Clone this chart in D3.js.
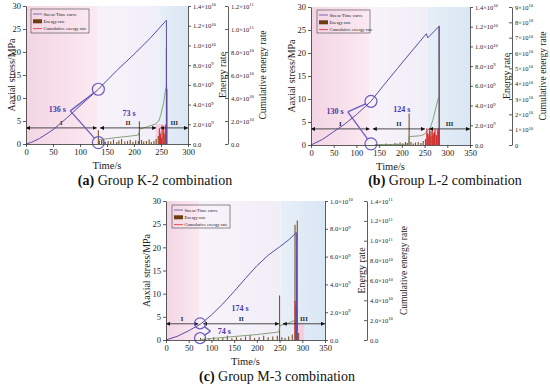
<!DOCTYPE html>
<html>
<head>
<meta charset="utf-8">
<script src="https://cdn.jsdelivr.net/npm/d3@7"></script>
<style>
  body { margin: 0; background: #fff; }
  svg { display: block; font-family: "Liberation Serif", "Times New Roman", serif; }
</style>
</head>
<body>
<svg id="chart" width="550" height="389" font-family="'Liberation Serif', serif"></svg>
<script>
// ---- shared ticks ----
const stressTicks = [0, 5, 10, 15, 20, 25, 30];
const time300 = [0, 50, 100, 150, 200, 250, 300];
const time350 = [0, 50, 100, 150, 200, 250, 300, 350];
const energyTicks14 = [0, 2e9, 4e9, 6e9, 8e9, 1e10, 1.2e10, 1.4e10];
const energyTicks10 = [0, 2e9, 4e9, 6e9, 8e9, 1e10];
const cumTicksA = [0, 2e10, 4e10, 6e10, 8e10, 1e11, 1.2e11];
const cumTicksB = [0, 1e10, 2e10, 3e10, 4e10, 5e10, 6e10, 7e10, 8e10, 9e10];
const cumTicksC = [0, 2e10, 4e10, 6e10, 8e10, 1e11, 1.2e11, 1.4e11];
const legendNames = ['Stress-Time curve', 'Energy rate', 'Cumulative energy rate'];

// ---- (a) K-2 ----  [time s, stress MPa]
const stressA = [[0,0],[10,0.35],[25,1.2],[50,3.1],[75,5.6],[100,8.3],[134,11.9],[170,16.2],[200,19.5],[230,23],[250,25.6],[260,26.9],[260.5,0]];
const energyA = [[134,1.4e9],[136,0.3e9],[140,0.4e9],[143,0.5e9],[147,0.2e9],[152,0.3e9],[157,0.25e9],[162,0.45e9],[168,0.2e9],[172,0.35e9],[177,0.5e9],[183,0.25e9],[188,0.3e9],[193,0.4e9],[198,0.2e9],[203,0.35e9],[208,0.3e9],[210,2.3e9],[214,0.4e9],[218,0.25e9],[223,0.3e9],[228,0.45e9],[232,0.2e9],[237,0.3e9],[241,0.5e9],[245,0.8e9],[248,1.2e9],[251,0.6e9],[254,1.5e9],[257,1.0e9],[259,2.0e9],[260,9.7e9]];
const redA = [[247,1.6e9],[249,1.0e9],[252,1.9e9],[255,1.2e9],[258,1.8e9],[261,5.6e9]];
const cumA = [[135,0.35e10],[140,0.4e10],[150,0.45e10],[165,0.55e10],[180,0.62e10],[195,0.7e10],[208,0.78e10],[211,1.3e10],[225,1.5e10],[240,1.75e10],[246,2.0e10],[250,2.6e10],[255,3.6e10],[258,4.6e10],[260,5.0e10]];
const stagesA = [[0,131],[137,241],[249,300]];

// ---- (b) L-2 ----
const stressB = [[0,0],[25,1.2],[50,2.9],[75,4.6],[100,6.6],[132,9.5],[160,13],[190,16.6],[220,20.2],[254,24.2],[257,23.3],[270,24.6],[282,25.8],[282.5,0]];
const energyB = [[145,0.1e9],[155,0.08e9],[165,0.15e9],[175,0.1e9],[185,0.2e9],[190,0.12e9],[196,0.25e9],[202,0.15e9],[208,0.3e9],[212,0.2e9],[216,3.2e9],[220,0.3e9],[225,0.15e9],[230,0.25e9],[236,0.3e9],[242,0.2e9],[247,0.4e9],[252,0.6e9],[256,1.2e9],[260,0.8e9],[264,1.4e9],[268,0.9e9],[272,1.3e9],[276,1.0e9],[280,1.6e9],[282,12.1e9]];
const redB = [[255,1.7e9],[258,1.1e9],[261,1.6e9],[264,0.9e9],[267,1.5e9],[270,1.2e9],[273,1.6e9],[276,1.0e9],[279,1.5e9],[281,1.7e9]];
const cumB = [[140,0.02e10],[215,0.05e10],[216,0.55e10],[240,0.6e10],[250,0.7e10],[256,0.95e10],[262,1.1e10],[268,1.6e10],[273,2.2e10],[278,2.8e10],[281,3.1e10]];
const stagesB = [[0,129],[136,251],[260,350]];

// ---- (c) M-3 ----
const stressC = [[0,0],[25,0.8],[50,2],[77,3.5],[100,5.4],[125,7.8],[150,10.5],[175,13.3],[200,16],[225,18.3],[250,20.1],[270,21.6],[287,23.2],[287.5,0]];
const energyC = [[76,0.15e9],[85,0.1e9],[95,0.12e9],[105,0.2e9],[115,0.1e9],[125,0.15e9],[135,0.3e9],[145,0.12e9],[155,0.2e9],[165,0.15e9],[175,0.25e9],[185,0.35e9],[195,0.15e9],[205,0.2e9],[215,0.3e9],[225,0.2e9],[235,0.25e9],[245,0.3e9],[250,3.2e9],[255,0.2e9],[262,0.15e9],[270,0.25e9],[278,0.4e9],[284,8.3e9],[287,2.0e9],[289,8.6e9],[292,0.5e9]];
const redC = [[284,2.8e9],[285.5,2.5e9],[287,2.9e9],[288.5,2.2e9]];
const cumC = [[75,0.05e10],[100,0.15e10],[150,0.35e10],[200,0.55e10],[248,0.8e10],[251,1.45e10],[270,1.7e10],[282,1.95e10],[285,2.3e10]];
const stagesC = [[0,71],[82,249],[257,350]];

const panels = [
  { x0: 26, x1: 188, y0: 6, y1: 144, tMax: 300, tTicks: time300,
    eMax: 1.4e10, eTicks: energyTicks14, cMax: 1.2e11, cTicks: cumTicksA, cDec: 1, cumX: 228,
    stress: stressA, energy: energyA, red: redA, cum: cumA, stages: stagesA,
    shade: [133, 245], block: [240, 260, 4.3],
    circles: [[134, 11.9], [134, 0.3]], vertex: [82, 7.2], r: 6,
    labels: [['136 s', 74, 7.0, 'end'], ['73 s', 191, 6.1, 'middle']],
    yTitleOff: 11, cTitleOff: 38,
    legend: [31, 9, 58, 24], capX: 155, capY: 185, cap: ['(a)', ' Group K-2 combination'] },
  { x0: 311, x1: 470, y0: 7, y1: 145, tMax: 350, tTicks: time350,
    eMax: 1.4e10, eTicks: energyTicks14, cMax: 9e10, cTicks: cumTicksB, cDec: 0, cumX: 512,
    stress: stressB, energy: energyB, red: redB, cum: cumB, stages: stagesB,
    shade: [129, 254], block: [255, 284, 3.7],
    circles: [[132, 9.5], [132, 0.25]], vertex: [81, 7.2], r: 6,
    labels: [['130 s', 72, 6.7, 'end'], ['124 s', 200, 7.1, 'middle']],
    yTitleOff: 16, cTitleOff: 34,
    legend: [317, 10, 53, 23], capX: 445, capY: 185, cap: ['(b)', ' Group L-2 combination'] },
  { x0: 166, x1: 325, y0: 201, y1: 340, tMax: 350, tTicks: time350,
    eMax: 1.0e10, eTicks: energyTicks10, cMax: 1.4e11, cTicks: cumTicksC, cDec: 1, cumX: 367,
    stress: stressC, energy: energyC, red: redC, cum: cumC, stages: stagesC,
    shade: [74, 252], block: [284, 304, 3.6],
    circles: [[75, 3.6], [75, 0.4]], vertex: [98, 1.9], r: 5.5,
    labels: [['174 s', 163, 6.3, 'middle'], ['74 s', 114, 1.3, 'start']],
    yTitleOff: 16, cTitleOff: 40,
    legend: [172, 205, 58, 23], capX: 277, capY: 381, cap: ['(c)', ' Group M-3 combination'] }
];

const colors = {
  stress: '#5a4ca6', energy: '#7a5424', red: '#e4262e', cum: '#6f8a5c',
  axis: '#333', text: '#222', ann: '#4a36b0'
};

const svg = d3.select('#chart');
const defs = svg.append('defs');

defs.append('marker')
  .attr('id', 'arrow')
  .attr('viewBox', '0 0 10 10')
  .attr('refX', 10).attr('refY', 5)
  .attr('markerWidth', 4).attr('markerHeight', 4)
  .attr('markerUnits', 'userSpaceOnUse')
  .attr('orient', 'auto-start-reverse')
  .append('path').attr('d', 'M0,0L10,5L0,10z').attr('fill', '#111');

function gradient(id, c1, c2) {
  const lg = defs.append('linearGradient').attr('id', id)
    .attr('x1', '0%').attr('x2', '100%').attr('y1', '0%').attr('y2', '0%');
  lg.append('stop').attr('offset', '0%').attr('stop-color', c1);
  lg.append('stop').attr('offset', '100%').attr('stop-color', c2);
}
gradient('gPink', '#f3d5e3', '#fbeaf2');
gradient('gLav', '#f8f3fa', '#f1eef8');
gradient('gBlue', '#e8eff8', '#d9e6f4');

// scientific tick label: returns [mantissa text, exponent or null]
function sci(v, dec) {
  if (v === 0) return [(0).toFixed(dec), null];
  const e = Math.floor(Math.log10(v) + 1e-9);
  return [(v / Math.pow(10, e)).toFixed(dec) + '×10', e];
}

function sciAxis(sel, dec) {
  sel.selectAll('.tick text').each(function(d) {
    const el = d3.select(this);
    const parts = sci(d, dec);
    el.text(null);
    el.append('tspan').text(parts[0]);
    if (parts[1] !== null) {
      el.append('tspan').attr('dy', -2.5).attr('font-size', 4.6).text(parts[1]);
    }
  });
}

function styleAxis(sel, size) {
  sel.attr('font-family', "'Liberation Serif', serif").attr('font-size', size);
  sel.selectAll('path, line').attr('stroke', colors.axis).attr('stroke-width', 0.8);
  sel.selectAll('text').attr('fill', colors.text);
}

function drawPanel(p) {
  const g = svg.append('g');
  const x = d3.scaleLinear().domain([0, p.tMax]).range([p.x0, p.x1]);
  const y = d3.scaleLinear().domain([0, 30]).range([p.y1, p.y0]);
  const yE = d3.scaleLinear().domain([0, p.eMax]).range([p.y1, p.y0]);
  const yC = d3.scaleLinear().domain([0, p.cMax]).range([p.y1, p.y0]);

  // stage background shading
  const regions = [[0, p.shade[0], 'gPink'], [p.shade[0], p.shade[1], 'gLav'], [p.shade[1], p.tMax, 'gBlue']];
  g.selectAll('rect.bg').data(regions).join('rect')
    .attr('x', d => x(d[0])).attr('width', d => x(d[1]) - x(d[0]))
    .attr('y', p.y0).attr('height', p.y1 - p.y0)
    .attr('fill', d => `url(#${d[2]})`);

  g.append('rect')
    .attr('x', x(p.block[0])).attr('width', x(p.block[1]) - x(p.block[0]))
    .attr('y', y(p.block[2])).attr('height', y(0) - y(p.block[2]))
    .attr('fill', '#f7c9dc').attr('opacity', 0.85);

  // energy rate bars
  g.selectAll('line.en').data(p.energy).join('line')
    .attr('x1', d => x(d[0])).attr('x2', d => x(d[0]))
    .attr('y1', yE(0)).attr('y2', d => yE(d[1]))
    .attr('stroke', colors.energy).attr('stroke-width', 1.1);

  g.selectAll('line.red').data(p.red).join('line')
    .attr('x1', d => x(d[0])).attr('x2', d => x(d[0]))
    .attr('y1', yE(0)).attr('y2', d => yE(d[1]))
    .attr('stroke', colors.red).attr('stroke-width', 1.1);

  // cumulative energy
  g.append('path').datum(p.cum)
    .attr('d', d3.line().x(d => x(d[0])).y(d => yC(d[1])))
    .attr('fill', 'none').attr('stroke', colors.cum).attr('stroke-width', 0.8);

  // stage arrows
  const sy = y(3.5);
  g.selectAll('line.stage').data(p.stages).join('line')
    .attr('x1', d => x(d[0])).attr('x2', d => x(d[1]))
    .attr('y1', sy).attr('y2', sy)
    .attr('stroke', '#222').attr('stroke-width', 0.8)
    .attr('marker-start', 'url(#arrow)').attr('marker-end', 'url(#arrow)');
  g.selectAll('text.stage').data(p.stages).join('text')
    .attr('x', d => x((d[0] + d[1]) / 2)).attr('y', sy - 2.5)
    .attr('text-anchor', 'middle').attr('font-size', 6.5).attr('font-weight', 'bold')
    .attr('fill', '#222')
    .text((d, i) => ['I', 'II', 'III'][i]);

  // stress-time curve
  g.append('path').datum(p.stress)
    .attr('d', d3.line().x(d => x(d[0])).y(d => y(d[1])))
    .attr('fill', 'none').attr('stroke', colors.stress).attr('stroke-width', 1);

  // annotation circles and pointer
  g.selectAll('circle.ann').data(p.circles).join('circle')
    .attr('cx', d => x(d[0])).attr('cy', d => y(d[1])).attr('r', p.r)
    .attr('fill', 'none').attr('stroke', '#6a5cc0').attr('stroke-width', 1.2);
  const vx = x(p.vertex[0]), vy = y(p.vertex[1]);
  p.circles.forEach(c => {
    const cx = x(c[0]), cy = y(c[1]);
    const a = Math.atan2(vy - cy, vx - cx);
    g.append('line')
      .attr('x1', vx).attr('y1', vy)
      .attr('x2', cx + p.r * Math.cos(a)).attr('y2', cy + p.r * Math.sin(a))
      .attr('stroke', '#6a5cc0').attr('stroke-width', 1.3);
  });
  g.selectAll('text.ann').data(p.labels).join('text')
    .attr('x', d => x(d[1])).attr('y', d => y(d[2]))
    .attr('text-anchor', d => d[3])
    .attr('font-size', 8).attr('font-weight', 'bold').attr('fill', colors.ann)
    .text(d => d[0]);

  // axes
  const ax = g.append('g').attr('transform', `translate(${p.x0},0)`)
    .call(d3.axisLeft(y).tickValues(stressTicks).tickSize(3).tickSizeOuter(0).tickPadding(2));
  styleAxis(ax, 8.5);
  const bx = g.append('g').attr('transform', `translate(0,${p.y1})`)
    .call(d3.axisBottom(x).tickValues(p.tTicks).tickSize(3).tickSizeOuter(0).tickPadding(1.5));
  styleAxis(bx, 8.5);
  const ex = g.append('g').attr('transform', `translate(${p.x1},0)`)
    .call(d3.axisRight(yE).tickValues(p.eTicks).tickSize(3).tickSizeOuter(0).tickPadding(2));
  styleAxis(ex, 6.5);
  sciAxis(ex, 1);
  const cx = g.append('g').attr('transform', `translate(${p.cumX},0)`)
    .call(d3.axisRight(yC).tickValues(p.cTicks).tickSizeInner(-3).tickSizeOuter(0).tickPadding(3));
  styleAxis(cx, 6.5);
  sciAxis(cx, p.cDec);

  // titles
  const midY = (p.y0 + p.y1) / 2;
  g.append('text').attr('transform', `translate(${p.x0 - p.yTitleOff},${midY}) rotate(-90)`)
    .attr('text-anchor', 'middle').attr('font-size', 10).attr('fill', colors.text)
    .text('Aaxial stress/MPa');
  g.append('text').attr('transform', `translate(${p.cumX - 2},${midY}) rotate(-90)`)
    .attr('text-anchor', 'middle').attr('font-size', 10).attr('fill', colors.text)
    .text('Energy rate');
  g.append('text').attr('transform', `translate(${p.cumX + p.cTitleOff},${midY}) rotate(-90)`)
    .attr('text-anchor', 'middle').attr('font-size', 9.5).attr('fill', colors.text)
    .text('Cumulative energy rate');
  g.append('text').attr('x', (p.x0 + p.x1) / 2).attr('y', p.y1 + 25)
    .attr('text-anchor', 'middle').attr('font-size', 10.5).attr('fill', colors.text)
    .text('Time/s');
  const cap = g.append('text').attr('x', p.capX).attr('y', p.capY)
    .attr('text-anchor', 'middle').attr('font-size', 14).attr('fill', '#111');
  cap.append('tspan').attr('font-weight', 'bold').text(p.cap[0]);
  cap.append('tspan').text(p.cap[1]);

  // legend
  const [lx, ly, lw, lh] = p.legend;
  const lg = g.append('g');
  lg.append('rect').attr('x', lx).attr('y', ly).attr('width', lw).attr('height', lh)
    .attr('fill', 'none').attr('stroke', '#444').attr('stroke-width', 0.6);
  legendNames.forEach((name, i) => {
    const yy = ly + 5 + i * 7.3;
    if (i === 1) {
      lg.append('rect').attr('x', lx + 2).attr('y', yy - 2).attr('width', 9).attr('height', 4)
        .attr('fill', '#6b3d10');
    } else {
      lg.append('line').attr('x1', lx + 2).attr('x2', lx + 11).attr('y1', yy).attr('y2', yy)
        .attr('stroke', i === 0 ? colors.stress : colors.red).attr('stroke-width', 0.8);
    }
    lg.append('text').attr('x', lx + 12.5).attr('y', yy + 1.5)
      .attr('font-size', 4.6).attr('fill', '#222').text(name);
  });
}

panels.forEach(drawPanel);
</script>
</body>
</html>
